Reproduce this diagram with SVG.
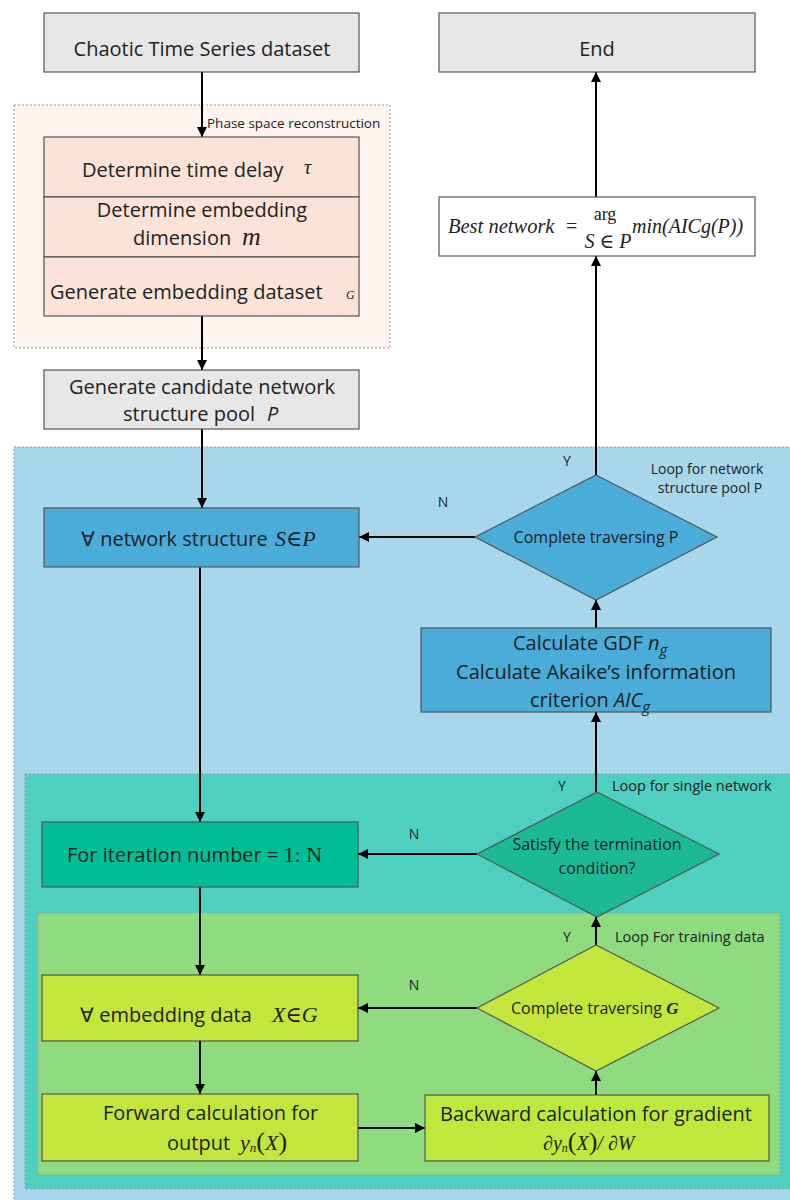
<svg xmlns="http://www.w3.org/2000/svg" width="790" height="1200" viewBox="0 0 790 1200">
<defs>
<marker id="ah" viewBox="0 0 10 10" refX="10" refY="5" markerWidth="10" markerHeight="10" markerUnits="userSpaceOnUse" orient="auto">
<path d="M0,0 L10,5 L0,10 z" fill="#000"/>
</marker>
<style>
.t{font-family:"Open Sans","Liberation Sans",sans-serif;fill:#222;}
.m{font-family:"Liberation Serif","DejaVu Serif",serif;font-style:italic;fill:#222;}
.u{font-style:normal;}
.c{text-anchor:middle;}
.region{stroke:#9a9a9a;stroke-width:1;stroke-dasharray:2,2;}
.box{stroke:#555;stroke-width:1.2;}
.conn{stroke:#000;stroke-width:2;fill:none;}
.arr{marker-end:url(#ah);}
</style>
</defs>
<rect width="790" height="1200" fill="#ffffff"/>

<g id="regions">
<rect x="14" y="105" width="376" height="243" fill="#fdf4ef" class="region"/>
<rect x="14" y="447" width="790" height="760" fill="#a8d7ec" class="region"/>
<rect x="25" y="774" width="780" height="415" fill="#4fcfc0" class="region"/>
<rect x="38" y="913" width="742" height="262" fill="#8edb80" class="region"/>
</g>

<g id="region-labels">
<text class="t" x="207" y="128" font-size="13.5">Phase space reconstruction</text>
<text class="t c" x="707" y="474" font-size="14">Loop for network</text>
<text class="t c" x="710" y="493" font-size="14">structure pool P</text>
<text class="t" x="612" y="791" font-size="14.5">Loop for single network</text>
<text class="t" x="615" y="942" font-size="14.5">Loop For training data</text>
</g>

<g id="connectors">
<line class="conn arr" x1="202" y1="72" x2="202" y2="137"/>
<line class="conn arr" x1="202" y1="316" x2="202" y2="370"/>
<line class="conn arr" x1="202" y1="429" x2="202" y2="508"/>
<line class="conn arr" x1="200" y1="567" x2="200" y2="822"/>
<line class="conn arr" x1="200" y1="887" x2="200" y2="975"/>
<line class="conn arr" x1="200" y1="1041" x2="200" y2="1094"/>
<line class="conn arr" x1="358" y1="1128" x2="425" y2="1128"/>
<line class="conn arr" x1="596" y1="1095" x2="596" y2="1071"/>
<line class="conn arr" x1="477" y1="1008" x2="358" y2="1008"/>
<line class="conn arr" x1="596" y1="945" x2="596" y2="917"/>
<line class="conn arr" x1="477" y1="854" x2="358" y2="854"/>
<line class="conn arr" x1="596" y1="792" x2="596" y2="712"/>
<line class="conn arr" x1="596" y1="628" x2="596" y2="600"/>
<line class="conn arr" x1="475" y1="537" x2="359" y2="537"/>
<line class="conn arr" x1="596" y1="475" x2="596" y2="256"/>
<line class="conn arr" x1="596" y1="197" x2="596" y2="72"/>
<text class="t" x="567" y="466" font-size="14" text-anchor="middle">Y</text>
<text class="t" x="443" y="507" font-size="14" text-anchor="middle">N</text>
<text class="t" x="562" y="791" font-size="14" text-anchor="middle">Y</text>
<text class="t" x="414" y="839" font-size="14" text-anchor="middle">N</text>
<text class="t" x="567" y="942" font-size="14" text-anchor="middle">Y</text>
<text class="t" x="414" y="990" font-size="14" text-anchor="middle">N</text>
</g>

<g id="n-chaotic">
<rect class="box" x="44" y="13" width="315" height="59" fill="#e7e7e7"/>
<text class="t c" x="202" y="56" font-size="20">Chaotic Time Series dataset</text>
</g>

<g id="n-end">
<rect class="box" x="439" y="13" width="316" height="59" fill="#e7e7e7"/>
<text class="t c" x="597" y="56" font-size="20">End</text>
</g>

<g id="n-delay">
<rect class="box" x="44" y="137" width="315" height="60" fill="#fbe4d7"/>
<text class="t" x="82" y="177" font-size="20">Determine time delay</text>
<text class="m" x="304" y="174" font-size="20">τ</text>
</g>

<g id="n-dimension">
<rect class="box" x="44" y="197" width="315" height="60" fill="#fbe4d7"/>
<text class="t c" x="202" y="217" font-size="20">Determine embedding</text>
<text class="t" x="133" y="245" font-size="20">dimension</text>
<text class="m" x="242" y="245" font-size="26">m</text>
</g>

<g id="n-embed">
<rect class="box" x="44" y="257" width="315" height="59" fill="#fbe4d7"/>
<text class="t" x="50" y="299" font-size="20">Generate embedding dataset</text>
<text class="m" x="346" y="299" font-size="12">G</text>
</g>

<g id="n-pool">
<rect class="box" x="44" y="370" width="315" height="59" fill="#e7e7e7"/>
<text class="t c" x="202" y="394" font-size="20">Generate candidate network</text>
<text class="t" x="123" y="421" font-size="20">structure pool</text>
<text class="t" x="267" y="421" font-size="20" style="font-style:italic">P</text>
</g>

<g id="n-best">
<rect class="box" x="439" y="197" width="316" height="59" fill="#ffffff"/>
<text class="m" x="448" y="233" font-size="20.5">Best network</text>
<text class="m u" x="566" y="233" font-size="20">=</text>
<text class="m u c" x="605" y="220" font-size="18">arg</text>
<text class="m c" x="608" y="248" font-size="20">S ∈ P</text>
<text class="m" x="632" y="233" font-size="20">min(AICg(P))</text>
</g>

<g id="n-network">
<rect class="box" x="44" y="508" width="315" height="59" fill="#49acd9"/>
<text class="t" x="81" y="546" font-size="20">∀ network structure</text>
<text class="m" x="275" y="546" font-size="22">S∈P</text>
</g>

<g id="n-traverseP">
<polygon class="box" points="596,475 717,537 596,600 475,537" fill="#49acd9"/>
<text class="t c" x="596" y="543" font-size="16">Complete traversing P</text>
</g>

<g id="n-gdf">
<rect class="box" x="421" y="628" width="350" height="84" fill="#49acd9"/>
<text class="t" x="513" y="650" font-size="20">Calculate GDF <tspan style="font-style:italic">n</tspan><tspan style="font-style:italic" font-size="15" dy="5">g</tspan></text>
<text class="t c" x="596" y="679" font-size="20">Calculate Akaike’s information</text>
<text class="t" x="530" y="707" font-size="20">criterion <tspan style="font-style:italic">AIC</tspan><tspan style="font-style:italic" font-size="15" dy="5">g</tspan></text>
</g>

<g id="n-iteration">
<rect class="box" x="42" y="822" width="316" height="65" fill="#00bf96"/>
<text class="t" x="67" y="862" font-size="20">For iteration number = <tspan font-family="Liberation Serif,serif" font-size="22">1: N</tspan></text>
</g>

<g id="n-terminate">
<polygon class="box" points="597,792 719,854 597,917 477,854" fill="#1cba94"/>
<text class="t c" x="597" y="850" font-size="16">Satisfy the termination</text>
<text class="t c" x="597" y="874" font-size="16">condition?</text>
</g>

<g id="n-data">
<rect class="box" x="42" y="975" width="316" height="66" fill="#c4e53c"/>
<text class="t" x="80" y="1022" font-size="20">∀ embedding data</text>
<text class="m" x="272" y="1022" font-size="22">X∈G</text>
</g>

<g id="n-traverseG">
<polygon class="box" points="596,945 719,1008 596,1071 477,1008" fill="#c4e53c"/>
<text class="t" x="511" y="1014" font-size="16">Complete traversing <tspan font-family="Liberation Serif,serif" style="font-style:italic" font-weight="bold" font-size="17">G</tspan></text>
</g>

<g id="n-forward">
<rect class="box" x="42" y="1094" width="316" height="67" fill="#c4e53c"/>
<text class="t" x="103" y="1120" font-size="20">Forward calculation for</text>
<text class="t" x="167" y="1150" font-size="20">output</text>
<text class="m" x="240" y="1150" font-size="22">y<tspan font-size="13" dy="2">n</tspan><tspan class="u" font-size="26" dy="-2">(</tspan>X<tspan class="u" font-size="26">)</tspan></text>
</g>

<g id="n-backward">
<rect class="box" x="425" y="1095" width="344" height="66" fill="#bde93d"/>
<text class="t c" x="596" y="1121" font-size="20">Backward calculation for gradient</text>
<text class="m" x="543" y="1150" font-size="20">∂y<tspan font-size="12" dy="2">n</tspan><tspan class="u" font-size="26" dy="-2">(</tspan>X<tspan class="u" font-size="26">)</tspan>/ ∂W</text>
</g>
</svg>
